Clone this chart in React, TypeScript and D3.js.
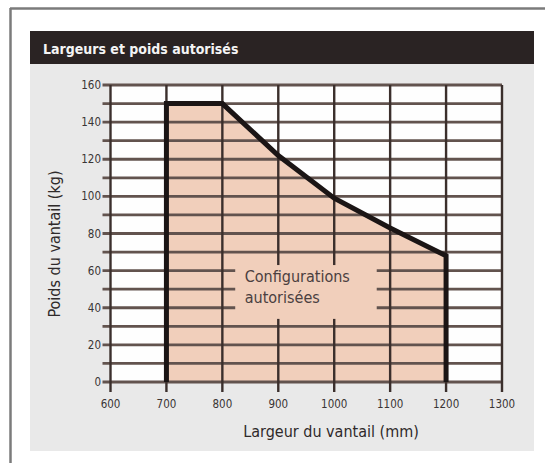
import React from 'react';
import * as d3 from 'd3';

// largeur du vantail (mm) -> poids max (kg)
const widths = [700, 700, 800, 900, 1000, 1100, 1200, 1200];
const weights = [0, 150, 150, 122, 99, 83, 68, 0];

const xTicks = [600, 700, 800, 900, 1000, 1100, 1200, 1300];
const yGrid = d3.range(0, 161, 10);
const yLabels = [0, 20, 40, 60, 80, 100, 120, 140, 160];

const title = 'Largeurs et poids autorisés';
const xTitle = 'Largeur du vantail (mm)';
const yTitle = 'Poids du vantail (kg)';
const areaLabel = ['Configurations', 'autorisées'];

const W = 545;
const H = 463;
const font = '"DejaVu Sans Condensed", "DejaVu Sans", sans-serif';

const App = () => {
  const x = d3.scaleLinear().domain([600, 1300]).range([110.5, 502]);
  const y = d3.scaleLinear().domain([0, 160]).range([382, 85]);

  const points: [number, number][] = widths.map((w, i) => [w, weights[i]]);

  const area = d3
    .area<[number, number]>()
    .x(d => x(d[0]))
    .y0(y(0))
    .y1(d => y(d[1]));

  const outline = d3
    .line<[number, number]>()
    .x(d => x(d[0]))
    .y(d => y(d[1]));

  return (
    <svg width={W} height={H} style={{ position: 'absolute', left: 0, top: 0, background: '#fff' }}>
      {/* cadre */}
      <line x1={10} x2={W} y1={8.5} y2={8.5} stroke="#7b7b7b" strokeWidth={2.5} />
      <line x1={10.5} x2={10.5} y1={8} y2={H} stroke="#7b7b7b" strokeWidth={2.5} />

      <rect x={30} y={31} width={504} height={420} fill="#e9e9e9" />
      <rect x={30} y={31} width={504} height={33} fill="#2a2323" />
      <text x={43} y={54} fill="#f4f4f4" fontFamily={font} fontSize={14} fontWeight="bold">
        {title}
      </text>

      <rect x={x(600)} y={y(160)} width={x(1300) - x(600)} height={y(0) - y(160)} fill="#fefefe" />
      <path d={area(points.slice(1, -1)) ?? ''} fill="#f1cfbb" />

      {yGrid.map(v => (
        <line key={'h' + v} x1={x(600) - 8} x2={x(1300)} y1={y(v)} y2={y(v)} stroke="#62534e" strokeWidth={2.8} />
      ))}
      {xTicks.map(v => (
        <line key={'v' + v} x1={x(v)} x2={x(v)} y1={y(160)} y2={y(0) + 10} stroke="#3b2f2c" strokeWidth={2.4} />
      ))}

      {/* zone du libellé */}
      <rect x={x(823)} y={y(63)} width={x(1076) - x(823)} height={y(34) - y(63)} fill="#f1cfbb" />
      {areaLabel.map((t, i) => (
        <text key={t} x={x(840)} y={y(54) + i * 21} fill="#4a4040" fontFamily={font} fontSize={16}>
          {t}
        </text>
      ))}

      <path d={outline(points) ?? ''} fill="none" stroke="#1b1515" strokeWidth={5} strokeLinejoin="miter" />

      {yLabels.map(v => (
        <text key={'yl' + v} x={101} y={y(v)} dy="0.35em" textAnchor="end" fill="#3a3535" fontFamily={font} fontSize={11.5}>
          {v}
        </text>
      ))}
      {xTicks.map(v => (
        <text key={'xl' + v} x={x(v)} y={408} textAnchor="middle" fill="#3a3535" fontFamily={font} fontSize={11.5}>
          {v}
        </text>
      ))}

      <text x={331} y={437} textAnchor="middle" fill="#2f2a2a" fontFamily={font} fontSize={16}>
        {xTitle}
      </text>
      <text
        transform={`translate(60, 244) rotate(-90)`}
        textAnchor="middle"
        fill="#2f2a2a"
        fontFamily={font}
        fontSize={16}
      >
        {yTitle}
      </text>
    </svg>
  );
};

export default App;
